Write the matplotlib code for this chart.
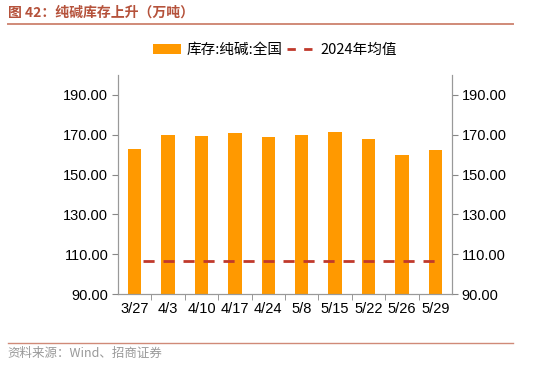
import matplotlib
matplotlib.use("Agg")
import matplotlib.pyplot as plt
from matplotlib.lines import Line2D
from matplotlib.patches import Patch

plt.rcParams['font.family'] = ['Liberation Sans', 'Noto Sans CJK SC', 'DejaVu Sans']

categories = ["3/27", "4/3", "4/10", "4/17", "4/24", "5/8", "5/15", "5/22", "5/26", "5/29"]
inventory = [163.0, 170.0, 169.2, 170.8, 168.9, 170.0, 171.2, 167.6, 160.0, 162.3]
avg_2024 = 106.7
yticks = [90, 110, 130, 150, 170, 190]

bar_color = "#FF9900"
line_color = "#C0392B"
title_color = "#B5523B"

fig = plt.figure(figsize=(5.5, 3.9), dpi=100)
ax = fig.add_axes([0.2145, 0.246, 0.6075, 0.562])
x = list(range(len(categories)))
ax.bar(x, inventory, width=0.4, color=bar_color, zorder=2)
ax.plot([x[0] + 0.25, x[-1]], [avg_2024, avg_2024], color=line_color, lw=2,
        dashes=(4, 3.2), zorder=3)

ax.set_xlim(-0.5, len(categories) - 0.5)
ax.set_ylim(90, 200)
ax.set_yticks(yticks)
ax.set_yticklabels([f"{v:.2f}" for v in yticks])
ax.set_xticks(x)
ax.set_xticklabels(categories)
ax.set_xticks([i + 0.5 for i in range(len(categories) - 1)], minor=True)
ax.tick_params(axis='x', which='major', length=0, labelsize=10.5, pad=6)
ax.tick_params(axis='x', which='minor', length=4, color='#888888', direction='out')
ax.tick_params(axis='y', length=4, color='#888888', labelsize=10.5, direction='out', pad=3)
for s in ['left', 'right', 'bottom']:
    ax.spines[s].set_color('#999999')
ax.spines['top'].set_visible(False)

ax2 = ax.twinx()
ax2.set_ylim(ax.get_ylim())
ax2.set_yticks(yticks)
ax2.set_yticklabels([f"{v:.2f}" for v in yticks])
ax2.tick_params(axis='y', length=4, color='#888888', labelsize=10.5, direction='out', pad=3)
for s in ['left', 'right', 'bottom']:
    ax2.spines[s].set_color('#999999')
ax2.spines['top'].set_visible(False)

handles = [Patch(facecolor=bar_color, edgecolor='none'),
           Line2D([0], [0], color=line_color, lw=2, dashes=(3, 3))]
fig.legend(handles, ["库存:纯碱:全国", "2024年均值"], loc='center',
           bbox_to_anchor=(0.5, 0.872), ncol=2, frameon=False,
           handlelength=1.9, columnspacing=0.3, handletextpad=0.4,
           prop={'family': ['Noto Sans CJK SC', 'DejaVu Sans'], 'size': 10.5})

fig.text(0.014, 0.967, "图 42：纯碱库存上升（万吨）", color=title_color, fontsize=10,
         fontweight='bold', va='center', ha='left',
         family=['Noto Sans CJK SC', 'DejaVu Sans'])
fig.add_artist(Line2D([0.014, 0.933], [0.938, 0.938], color='#D08A78', lw=1.4,
                      transform=fig.transFigure))
fig.add_artist(Line2D([0.014, 0.933], [0.12, 0.12], color='#D08A78', lw=1.0,
                      transform=fig.transFigure))
fig.text(0.014, 0.095, "资料来源：Wind、招商证券", color='#999999', fontsize=9,
         va='center', ha='left', family=['Noto Sans CJK SC', 'DejaVu Sans'])

fig.savefig("out.png", dpi=100)
